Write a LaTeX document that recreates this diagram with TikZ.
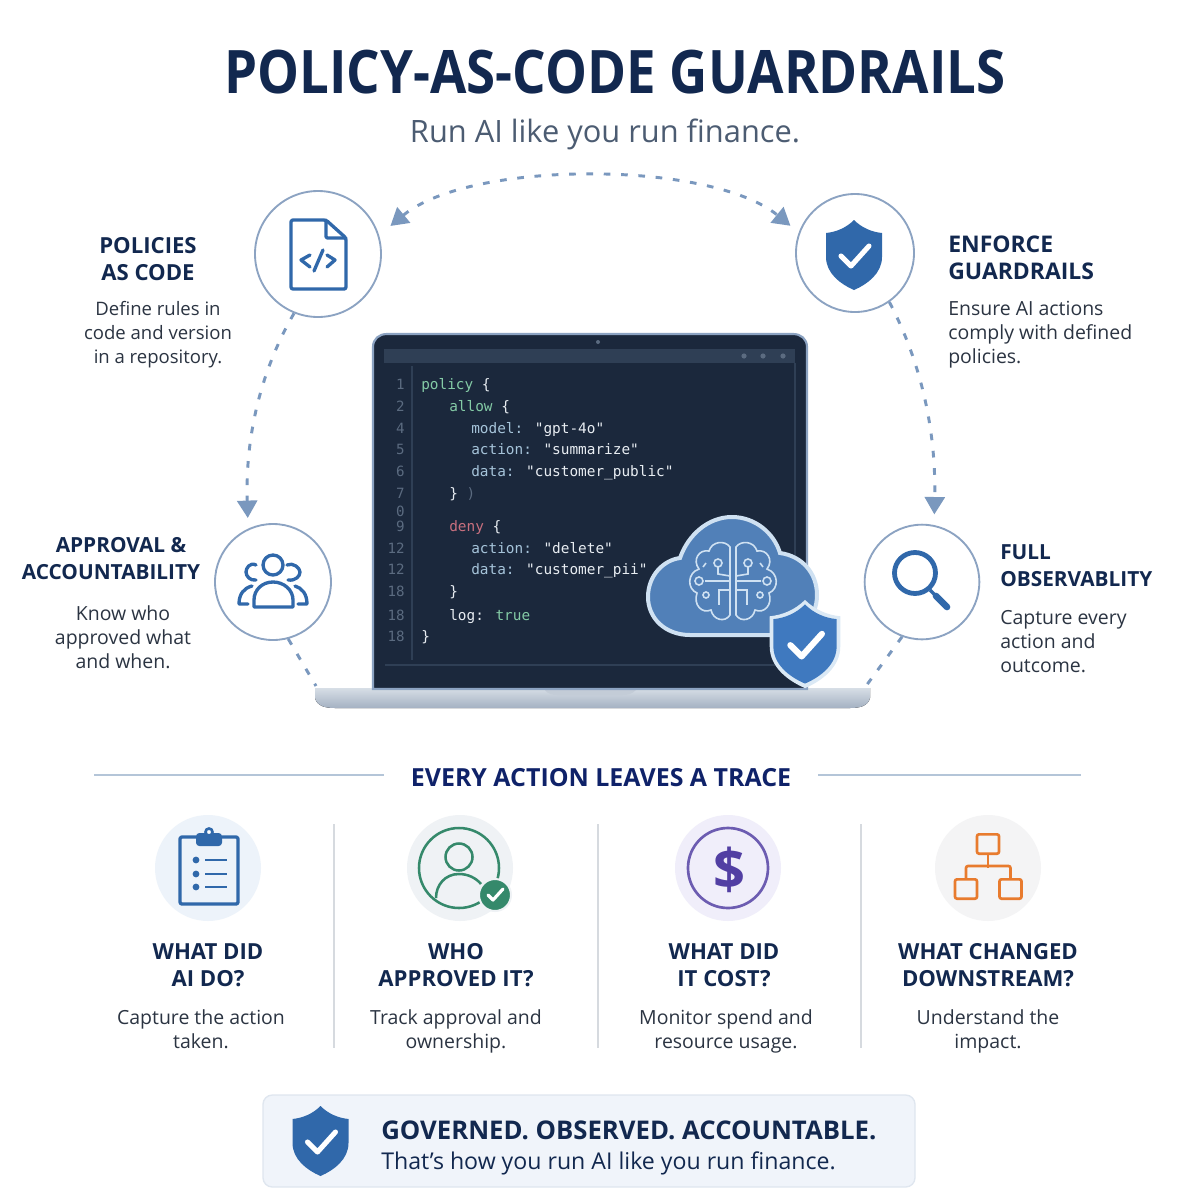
\documentclass[tikz,border=0pt]{standalone}
\usepackage{fontspec}
\setmainfont{Open Sans}
\newfontfamily\codefont{DejaVu Sans Mono}
\usetikzlibrary{arrows.meta}

\definecolor{navy}{HTML}{12284F}
\definecolor{slate}{HTML}{4C5C72}
\definecolor{bodyc}{HTML}{2B3442}
\definecolor{iconblue}{HTML}{3068AA}
\definecolor{ringc}{HTML}{8CA3C2}
\definecolor{dashc}{HTML}{7A98BE}
\definecolor{rulec}{HTML}{B4C5D8}
\definecolor{divc}{HTML}{D6DADF}
\definecolor{screenc}{HTML}{1B283C}
\definecolor{barc}{HTML}{2F3F55}
\definecolor{lnumc}{HTML}{5B6B80}
\definecolor{codegreen}{HTML}{84CBA6}
\definecolor{codekey}{HTML}{A6C4DA}
\definecolor{codestr}{HTML}{E8EDF2}
\definecolor{codered}{HTML}{C9707F}
\definecolor{cloudc}{HTML}{5180B8}
\definecolor{cloudrim}{HTML}{CFE1F2}
\definecolor{badgeblue}{HTML}{3F79BF}
\definecolor{greenc}{HTML}{35896B}
\definecolor{purplec}{HTML}{523FA3}
\definecolor{orangec}{HTML}{E87B2E}
\definecolor{discblue}{HTML}{EDF3FA}
\definecolor{discgrey}{HTML}{EFF2F5}
\definecolor{discviolet}{HTML}{F0EEFA}
\definecolor{discplain}{HTML}{F4F4F5}
\definecolor{bannerc}{HTML}{F0F4FA}
\definecolor{bannerline}{HTML}{DFE6EF}
\definecolor{basetop}{HTML}{D7DEE6}
\definecolor{basebot}{HTML}{A4B1C2}
\definecolor{notchc}{HTML}{C3CCD7}

\tikzset{
	headtext/.style={font=\fontsize{16.6}{20.3}\selectfont\bfseries,text=navy,align=center,inner sep=0pt},
	smallhead/.style={font=\fontsize{15.6}{20.3}\selectfont\bfseries},
	bodytext/.style={font=\fontsize{14.6}{18}\selectfont,text=bodyc,align=center,inner sep=0pt},
	ringnode/.style={circle,draw=ringc,line width=1.4pt,fill=white,minimum size=#1,inner sep=0pt},
	dashlink/.style={draw=dashc,line width=2.2pt,dash pattern=on 5pt off 8pt},
	tipboth/.style={{Triangle[width=15pt,length=13pt]}-{Triangle[width=15pt,length=13pt]},shorten <=11pt,shorten >=8pt},
	tipend/.style={-{Triangle[width=15pt,length=13pt]},shorten >=8pt},
	lnum/.style={font=\codefont\fontsize{10.6}{12}\selectfont,text=lnumc,anchor=east,inner sep=0pt,text height=8pt,text depth=2pt},
	codeline/.style={font=\codefont\fontsize{10.8}{12}\selectfont,text=codestr,anchor=west,inner sep=0pt,text height=8pt,text depth=2pt},
	iconline/.style={draw=iconblue,line width=2.5pt,line cap=round,line join=round},
	orgbox/.style={draw=orangec,line width=2pt,rounded corners=1.5pt,minimum width=16.5pt,minimum height=14.5pt,inner sep=0pt},
}

\newcommand{\shieldpath}{(0,-35) .. controls (8,-27) and (18,-23) .. (28,-22) -- (28,2) .. controls (28,18) and (14,29) .. (0,35) .. controls (-14,29) and (-28,18) .. (-28,2) -- (-28,-22) .. controls (-18,-23) and (-8,-27) .. (0,-35) -- cycle}
\newcommand{\tickmark}{(-13,1) -- (-3,11) -- (15,-9)}

\begin{document}
\begin{tikzpicture}[x=0.75pt,y=-0.75pt]
	\useasboundingbox (0,0) rectangle (1200,1200);
	\fill[white] (0,0) rectangle (1200,1200);

	\node[font=\fontsize{45}{50}\selectfont\bfseries,text=navy,inner sep=0pt] (title) at (615,72) {\scalebox{0.88}[1]{POLICY-AS-CODE GUARDRAILS}};
	\node[font=\fontsize{23.1}{26}\selectfont,text=slate,inner sep=0pt] (subtitle) at (605,134) {Run AI like you run finance.};

	% laptop {{{
	\fill[top color=basetop,bottom color=basebot,draw=none] (315,688) -- (870,688) -- (870,698) .. controls (868,706) and (860,708) .. (850,708) -- (335,708) .. controls (325,708) and (317,706) .. (315,698) -- cycle;
	\fill[notchc] (545,690) -- (636,690) .. controls (632,694) and (628,695) .. (622,695) -- (558,695) .. controls (552,695) and (548,694) .. (545,690) -- cycle;
	\draw[draw=ringc,fill=screenc,line width=1.6pt] (373,689) -- (373,347) .. controls (373,339) and (379,334) .. (387,334) -- (793,334) .. controls (801,334) and (807,339) .. (807,347) -- (807,689) -- cycle;
	\fill[barc] (384,349) rectangle (795,363);
	\fill[lnumc] (598,342) circle (2);
	\foreach \xpos in {744,763,783}
		\fill[lnumc] (\xpos,356) circle (2.6);
	\draw[barc,line width=0.8pt] (385,665) -- (795,665) (795,363) -- (795,665) (412,366) -- (412,660);

	\foreach \ypos/\num [count=\i] in {385/1,407/2,429/4,450/5,472/6,494/7,512/0,527/9,549/12,570/12,592/18,616/18,637/18}
		\node[lnum] (num\i) at (405,\ypos) {\num};
	\node[codeline] (code1) at (421,385) {\textcolor{codegreen}{policy} \{};
	\node[codeline] (code2) at (449,407) {\textcolor{codegreen}{allow} \{};
	\node[codeline] (code3) at (471,429) {\textcolor{codekey}{model:} "gpt-4o"};
	\node[codeline] (code4) at (471,450) {\textcolor{codekey}{action:} "summarize"};
	\node[codeline] (code5) at (471,472) {\textcolor{codekey}{data:} "customer\_public"};
	\node[codeline] (code6) at (449,494) {\} \textcolor{lnumc}{)}};
	\node[codeline] (code7) at (449,527) {\textcolor{codered}{deny} \{};
	\node[codeline] (code8) at (471,549) {\textcolor{codekey}{action:} "delete"};
	\node[codeline] (code9) at (471,570) {\textcolor{codekey}{data:} "customer\_pii"};
	\node[codeline] (code10) at (449,592) {\}};
	\node[codeline] (code11) at (449,616) {log: \textcolor{codegreen}{true}};
	\node[codeline] (code12) at (421,637) {\}};

	% cloud and brain
	\draw[draw=cloudrim,fill=cloudc,line width=3pt] (690,635) .. controls (665,635) and (648,618) .. (648,597) .. controls (648,575) and (664,560) .. (680,558) .. controls (688,535) and (708,517) .. (732,517) .. controls (755,517) and (774,533) .. (780,553) .. controls (802,556) and (817,573) .. (817,595) .. controls (817,618) and (800,635) .. (780,635) -- cycle;
	\foreach \s in {1,-1} {
		\begin{scope}[shift={(733,581)},xscale=\s,draw=cloudrim,line width=1.2pt]
			\draw (3,-34) .. controls (8,-41) and (21,-40) .. (24,-30) .. controls (34,-32) and (41,-21) .. (34,-12) .. controls (46,-8) and (46,8) .. (36,12) .. controls (40,24) and (31,33) .. (22,29) .. controls (20,39) and (8,42) .. (3,34) -- cycle;
			\draw (3,0) -- (28,0) (34,0) circle (4);
			\draw (15,-18) circle (4) (15,-14) -- (15,-7) -- (3,-5);
			\draw (3,9) -- (14,9) -- (14,24);
			\draw (27,14) circle (3) (27,-18) -- (30,-14);
		\end{scope}
	}
	% shield on top of the cloud
	\begin{scope}[shift={(805,644)}]
		\fill[cloudrim!75!white,scale=1.26] \shieldpath;
		\fill[badgeblue,scale=1.13] \shieldpath;
		\draw[white,line width=4.6pt,line cap=round,line join=round,scale=1.13] \tickmark;
	\end{scope}
	% }}}

	% the four circles {{{
	\node[ringnode=94.5pt] (polcircle) at (318,254) {};
	\node[ringnode=88.5pt] (enfcircle) at (855,253) {};
	\node[ringnode=87pt] (appcircle) at (273,582) {};
	\node[ringnode=86pt] (obscircle) at (922,582) {};
	\coordinate (baseL) at (316,686);
	\coordinate (baseR) at (866,686);

	\draw[dashlink,tipboth] (polcircle.17) .. controls (470,160) and (710,160) .. (enfcircle.160);
	\draw[dashlink,tipend] (polcircle.248) .. controls (264,365) and (245,430) .. (appcircle.115);
	\draw[dashlink,tipend] (enfcircle.305) .. controls (925,370) and (936,440) .. (obscircle.78);
	\draw[dashlink] (appcircle.-75) -- (baseL);
	\draw[dashlink] (obscircle.-110) -- (baseR);

	% file with code brackets
	\draw[iconline,rounded corners=1.5pt] (326,220) -- (291,220) -- (291,289) -- (346,289) -- (346,238) -- cycle;
	\draw[iconline,rounded corners=1pt] (326,220) -- (326,238) -- (346,238);
	\draw[iconline] (310,255) -- (301,260) -- (310,267) (327,255) -- (335,260) -- (327,267) (323,250) -- (314,271);

	% enforce shield
	\begin{scope}[shift={(854,255)}]
		\fill[iconblue] \shieldpath;
		\draw[white,line width=3.8pt,line cap=round,line join=round] \tickmark;
	\end{scope}

	% people
	\draw[iconline] (273,565) circle (10);
	\draw[iconline] (254,607) -- (254,600) .. controls (254,590) and (262,582) .. (273,582) .. controls (284,582) and (293,590) .. (293,600) -- (293,607) -- cycle;
	\draw[iconline] (256,565) .. controls (250,562) and (246,568) .. (246,572) .. controls (246,576) and (250,581) .. (256,580);
	\draw[iconline] (287,565) .. controls (293,562) and (300,568) .. (300,572) .. controls (300,576) and (296,581) .. (288,580);
	\draw[iconline] (239,604) .. controls (239,594) and (244,588) .. (252,586) (239,604) -- (248,604);
	\draw[iconline] (307,604) .. controls (307,594) and (302,588) .. (295,586) (307,604) -- (298,604);

	% magnifier
	\draw[iconblue,line width=3.6pt] (915,573) circle (20.5);
	\draw[iconblue,line width=2.4pt] (930,590) -- (935,595);
	\draw[iconblue,line width=5pt,line cap=round] (936,596) -- (947,607);
	% }}}

	% side labels
	\node[headtext] (pollabel) at (148,259) {POLICIES\\AS CODE};
	\node[bodytext,font=\fontsize{13.9}{18}\selectfont] (poltext) at (158,335) {Define rules in\\code and version\\in a repository.};
	\node[headtext,font=\fontsize{17.2}{20.3}\selectfont\bfseries,anchor=west,align=left] (enflabel) at (948,258) {ENFORCE\\GUARDRAILS};
	\node[bodytext,anchor=west,align=left] (enftext) at (948,335) {Ensure AI actions\\comply with defined\\policies.};
	\node[headtext,smallhead] (applabel) at (111,559) {\hspace*{15pt}APPROVAL \&\\ACCOUNTABILITY};
	\node[bodytext] (apptext) at (123,637) {Know who\\approved what\\and when.};
	\node[headtext,smallhead,anchor=west,align=left] (obslabel) at (1000,566) {FULL\\OBSERVABLITY};
	\node[bodytext,anchor=west,align=left] (obstext) at (1000,642) {Capture every\\action and\\outcome.};

	% trace section {{{
	\node[font=\fontsize{18.7}{20}\selectfont\bfseries,text=navy!85!blue,inner sep=0pt] (trace) at (601,778) {EVERY ACTION LEAVES A TRACE};
	\coordinate (ruleA) at (94,775);
	\coordinate (ruleB) at (384,775);
	\coordinate (ruleC) at (818,775);
	\coordinate (ruleD) at (1081,775);
	\draw[rulec,line width=1pt] (ruleA) -- (ruleB) (ruleC) -- (ruleD);
	\foreach \xpos in {334,598,861}
		\draw[divc,line width=1pt] (\xpos,824) -- (\xpos,1048);

	\fill[discblue] (208,868) circle (53);
	\fill[discgrey] (460,868) circle (53);
	\fill[discviolet] (728,868) circle (53);
	\fill[discplain] (988,868) circle (53);

	% clipboard
	\draw[iconline,rounded corners=1.5pt] (196,837) -- (180,837) -- (180,904) -- (238,904) -- (238,837) -- (222,837);
	\fill[iconblue,rounded corners=2.5pt] (196,833) rectangle (222,846);
	\draw[iconblue,line width=2pt,fill=white] (209,832) circle (3.5);
	\foreach \ypos in {860,874,887} {
		\fill[iconblue] (196,\ypos) circle (3.4);
		\draw[iconblue,line width=2.2pt] (205,\ypos) -- (227,\ypos);
	}

	% approver
	\draw[greenc,line width=1.9pt] (459,868) circle (40);
	\draw[greenc,line width=1.9pt] (459,857) circle (13.5);
	\draw[greenc,line width=1.9pt] (436,898) .. controls (436,885) and (445,874) .. (459,874) .. controls (468,874) and (476,878) .. (481,884);
	\draw[discgrey,fill=greenc,line width=1.5pt] (495,895) circle (16);
	\draw[white,line width=2.4pt,line cap=round,line join=round] (488,895) -- (493,900) -- (503,889);

	% cost
	\draw[purplec!85!white,line width=2pt] (728,868) circle (40);
	\node[font=\fontsize{42}{44}\selectfont\bfseries,text=purplec,inner sep=0pt] (dollar) at (729,870) {\$};

	% org chart
	\node[orgbox] (orgtop) at (988,844) {};
	\node[orgbox] (orgleft) at (966,889) {};
	\node[orgbox] (orgright) at (1010.5,889) {};
	\draw[orangec,line width=2pt,rounded corners=1.5pt] (orgleft.north) -- ++(0,-12) -| (orgright.north);
	\draw[orangec,line width=2pt] (orgtop.south) -- ++(0,13);

	\node[headtext] (lab1) at (208,965) {WHAT DID\\AI DO?};
	\node[headtext] (lab2) at (456,965) {WHO\\APPROVED IT?};
	\node[headtext] (lab3) at (724,965) {WHAT DID\\IT COST?};
	\node[headtext] (lab4) at (988,965) {WHAT CHANGED\\DOWNSTREAM?};
	\node[bodytext] (txt1) at (201,1029) {Capture the action\\taken.};
	\node[bodytext] (txt2) at (456,1031) {Track approval and\\ownership.};
	\node[bodytext] (txt3) at (726,1031) {Monitor spend and\\resource usage.};
	\node[bodytext] (txt4) at (988,1031) {Understand the\\impact.};
	% }}}

	% banner {{{
	\node[draw=bannerline,fill=bannerc,line width=1pt,rounded corners=7pt,minimum width=489pt,minimum height=69pt,inner sep=0pt] (banner) at (589,1141) {};
	\begin{scope}[shift={(320.5,1141)}]
		\fill[iconblue] \shieldpath;
		\draw[white,line width=3.8pt,line cap=round,line join=round] \tickmark;
	\end{scope}
	\node[font=\fontsize{19.3}{22}\selectfont\bfseries,text=navy,anchor=west,inner sep=0pt] (banhead) at (381,1130) {GOVERNED. OBSERVED. ACCOUNTABLE.};
	\node[font=\fontsize{17.35}{20}\selectfont,text=navy,anchor=west,inner sep=0pt] (bantext) at (381,1163) {That’s how you run AI like you run finance.};
	% }}}
\end{tikzpicture}
\end{document}
